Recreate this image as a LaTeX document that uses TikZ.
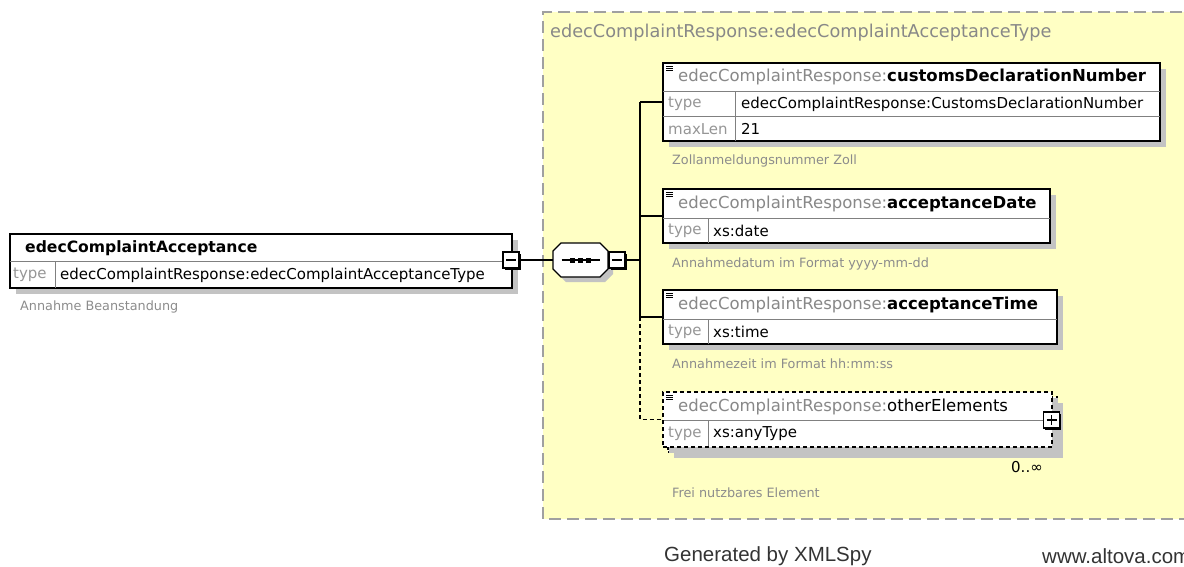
\documentclass[tikz,border=0pt]{standalone}
\usepackage{fontspec}
\setmainfont{DejaVu Sans}
\newfontfamily\footfont{Liberation Sans}
\usetikzlibrary{shadows}
\definecolor{xsdyellow}{RGB}{255,255,196}
\definecolor{framegray}{RGB}{160,160,160}
\definecolor{pregray}{RGB}{136,136,136}
\definecolor{labgray}{RGB}{150,150,150}
\definecolor{notegray}{RGB}{140,140,140}
\definecolor{shadowgray}{RGB}{195,195,195}
\definecolor{footgray}{RGB}{51,51,51}
\begin{document}
\begin{tikzpicture}[x=1pt, y=-1pt,
  elem/.style={draw=black, line width=1.6pt, fill=white, inner sep=0pt, outer sep=0pt, anchor=north west,
    drop shadow={shadow xshift=6pt, shadow yshift=-6pt, fill=shadowgray, opacity=1}},
  elemdash/.style={elem, dash pattern=on 4pt off 3pt, line width=1.4pt},
  rowline/.style={draw=gray, line width=0.8pt},
  conn/.style={draw=black, line width=1.2pt},
  togglebox/.style={draw=black, line width=1.5pt, fill=white, minimum size=16pt, inner sep=0pt, outer sep=0pt,
    drop shadow={shadow xshift=1.5pt, shadow yshift=-1.5pt, fill=black, opacity=1}},
  seqbox/.style={minimum width=55pt, minimum height=34pt, inner sep=0pt, outer sep=0pt},
  hdr/.style={anchor=west, inner sep=0pt, font=\fontsize{16.5}{19}\selectfont},
  row/.style={anchor=west, inner sep=0pt, font=\fontsize{15}{18}\selectfont},
  lab/.style={row, text=labgray},
  note/.style={anchor=west, inner sep=0pt, text=notegray, font=\fontsize{12.8}{15}\selectfont},
  typelab/.style={anchor=west, inner sep=0pt, text=pregray, font=\fontsize{17.7}{21}\selectfont},
  foot/.style={anchor=west, inner sep=0pt, text=footgray, font=\footfont\fontsize{20.5}{24}\selectfont}]
\clip (0,0) rectangle (1184,566);
% complex type area
\fill[xsdyellow] (543,12) rectangle (1200,519);
\draw[framegray, line width=1.5pt, dash pattern=on 12pt off 6pt] (1200,12) -- (543,12) -- (543,519) -- (1200,519);
\node[typelab] (ctype) at (550,33) {edecComplaintResponse:edecComplaintAcceptanceType};

% root element
\node[elem, minimum width=502pt, minimum height=54pt] (acc) at (10,234) {};
\draw[rowline] (10,261) -- (512,261);
\draw[rowline] (55,261) -- (55,288);
\node[hdr, font=\fontsize{15.6}{19}\selectfont] (acch) at (25,248) {\bfseries edecComplaintAcceptance};
\node[lab] (acct) at (13,275) {type};
\node[row] (accv) at (60,275) {edecComplaintResponse:edecComplaintAcceptanceType};
\node[note] (accd) at (20,307) {Annahme Beanstandung};
\node[togglebox] (accmin) at (511,260) {};
\draw[line width=1.2pt] (accmin.center) +(-5,0) -- +(5,0);

% sequence
\node[seqbox] (seq) at (580.5,260) {};
\draw[line width=1.2pt, fill=white, drop shadow={shadow xshift=5pt, shadow yshift=-5pt, fill=shadowgray, opacity=1}]
  ([xshift=8pt]seq.north west) -- ([xshift=-8pt]seq.north east) -- ([yshift=-8pt]seq.north east)
  -- ([yshift=8pt]seq.south east) -- ([xshift=-8pt]seq.south east) -- ([xshift=8pt]seq.south west)
  -- ([yshift=8pt]seq.south west) -- ([yshift=-8pt]seq.north west) -- cycle;
\draw[line width=1.2pt] ([xshift=-19pt]seq.center) -- ([xshift=19pt]seq.center);
\foreach \d in {-8,0,8}
  \fill ([xshift=\d pt]seq.center) +(-2.5,-2.5) rectangle +(2.5,2.5);
\node[togglebox] (seqmin) at (617,260) {};
\draw[line width=1.2pt] (seqmin.center) +(-5,0) -- +(5,0);

% customsDeclarationNumber
\node[elem, minimum width=497pt, minimum height=78pt] (cdn) at (663,63) {};
\draw[rowline] (663,91) -- (1160,91);
\draw[rowline] (663,116) -- (1160,116);
\draw[rowline] (735,91) -- (735,141);
\node[hdr] (cdnh) at (678,77) {{\color{pregray}edecComplaintResponse:}\textbf{customsDeclarationNumber}};
\node[lab] (cdnt) at (668,104) {type};
\node[row] (cdnv) at (741,104) {edecComplaintResponse:CustomsDeclarationNumber};
\node[lab] (cdnl) at (668,129) {maxLen};
\node[row] (cdnm) at (741,129) {21};
\node[note] (cdnd) at (672,161) {Zollanmeldungsnummer Zoll};

% acceptanceDate
\node[elem, minimum width=387pt, minimum height=54pt] (ad) at (663,189) {};
\draw[rowline] (663,218) -- (1050,218);
\draw[rowline] (708,218) -- (708,243);
\node[hdr] (adh) at (678,204) {{\color{pregray}edecComplaintResponse:}\textbf{acceptanceDate}};
\node[lab] (adt) at (668,231) {type};
\node[row] (adv) at (713,231) {xs:date};
\node[note] (add) at (672,264) {Annahmedatum im Format yyyy-mm-dd};

% acceptanceTime
\node[elem, minimum width=394pt, minimum height=54pt] (at) at (663,290) {};
\draw[rowline] (663,319) -- (1057,319);
\draw[rowline] (708,319) -- (708,344);
\node[hdr] (ath) at (678,305) {{\color{pregray}edecComplaintResponse:}\textbf{acceptanceTime}};
\node[lab] (att) at (668,332) {type};
\node[row] (atv) at (713,332) {xs:time};
\node[note] (atd) at (672,364) {Annahmezeit im Format hh:mm:ss};

% otherElements
\node[elemdash, minimum width=389pt, minimum height=55pt] (oeb) at (668,397) {};
\node[elemdash, minimum width=389pt, minimum height=55pt, drop shadow={opacity=0}] (oe) at (663,392) {};
\draw[rowline] (664,420) -- (1051,420);
\draw[rowline] (708,420) -- (708,446);
\node[hdr] (oeh) at (678,407) {{\color{pregray}edecComplaintResponse:}otherElements};
\node[lab] (oet) at (668,434) {type};
\node[row] (oev) at (713,434) {xs:anyType};
\node[togglebox] (oepl) at (1051.5,420) {};
\draw[line width=1.2pt] (oepl.center) +(-5,0) -- +(5,0);
\draw[line width=1.2pt] (oepl.center) +(0,-5) -- +(0,5);
\node[row, font=\fontsize{15}{17}\selectfont] (oem) at (1011,467) {0..∞};
\node[note] (oed) at (672,493) {Frei nutzbares Element};

% icons
\foreach \n in {cdn,ad,at,oe}
  \foreach \k in {3,5,7}
    \draw[line width=0.7pt] ([shift={(3,\k)}]\n.north west) -- ++(7,0);

% connectors
\coordinate (bus) at (640,260);
\draw[conn] (accmin.east) -- (seq.west);
\draw[conn] (seqmin.east) -- (bus);
\draw[conn] (bus |- cdn.west) -- (bus |- at.west);
\foreach \n in {cdn,ad,at}
  \draw[conn] (bus |- \n.west) -- (\n.west);
\draw[conn, dash pattern=on 4pt off 3pt] (bus |- at.west) -- (bus |- oe.west) -- (oe.west);

% footer
\node[foot] (gen) at (664,556) {Generated by XMLSpy};
\node[foot] (url) at (1042,556) {www.altova.com};
\end{tikzpicture}
\end{document}
